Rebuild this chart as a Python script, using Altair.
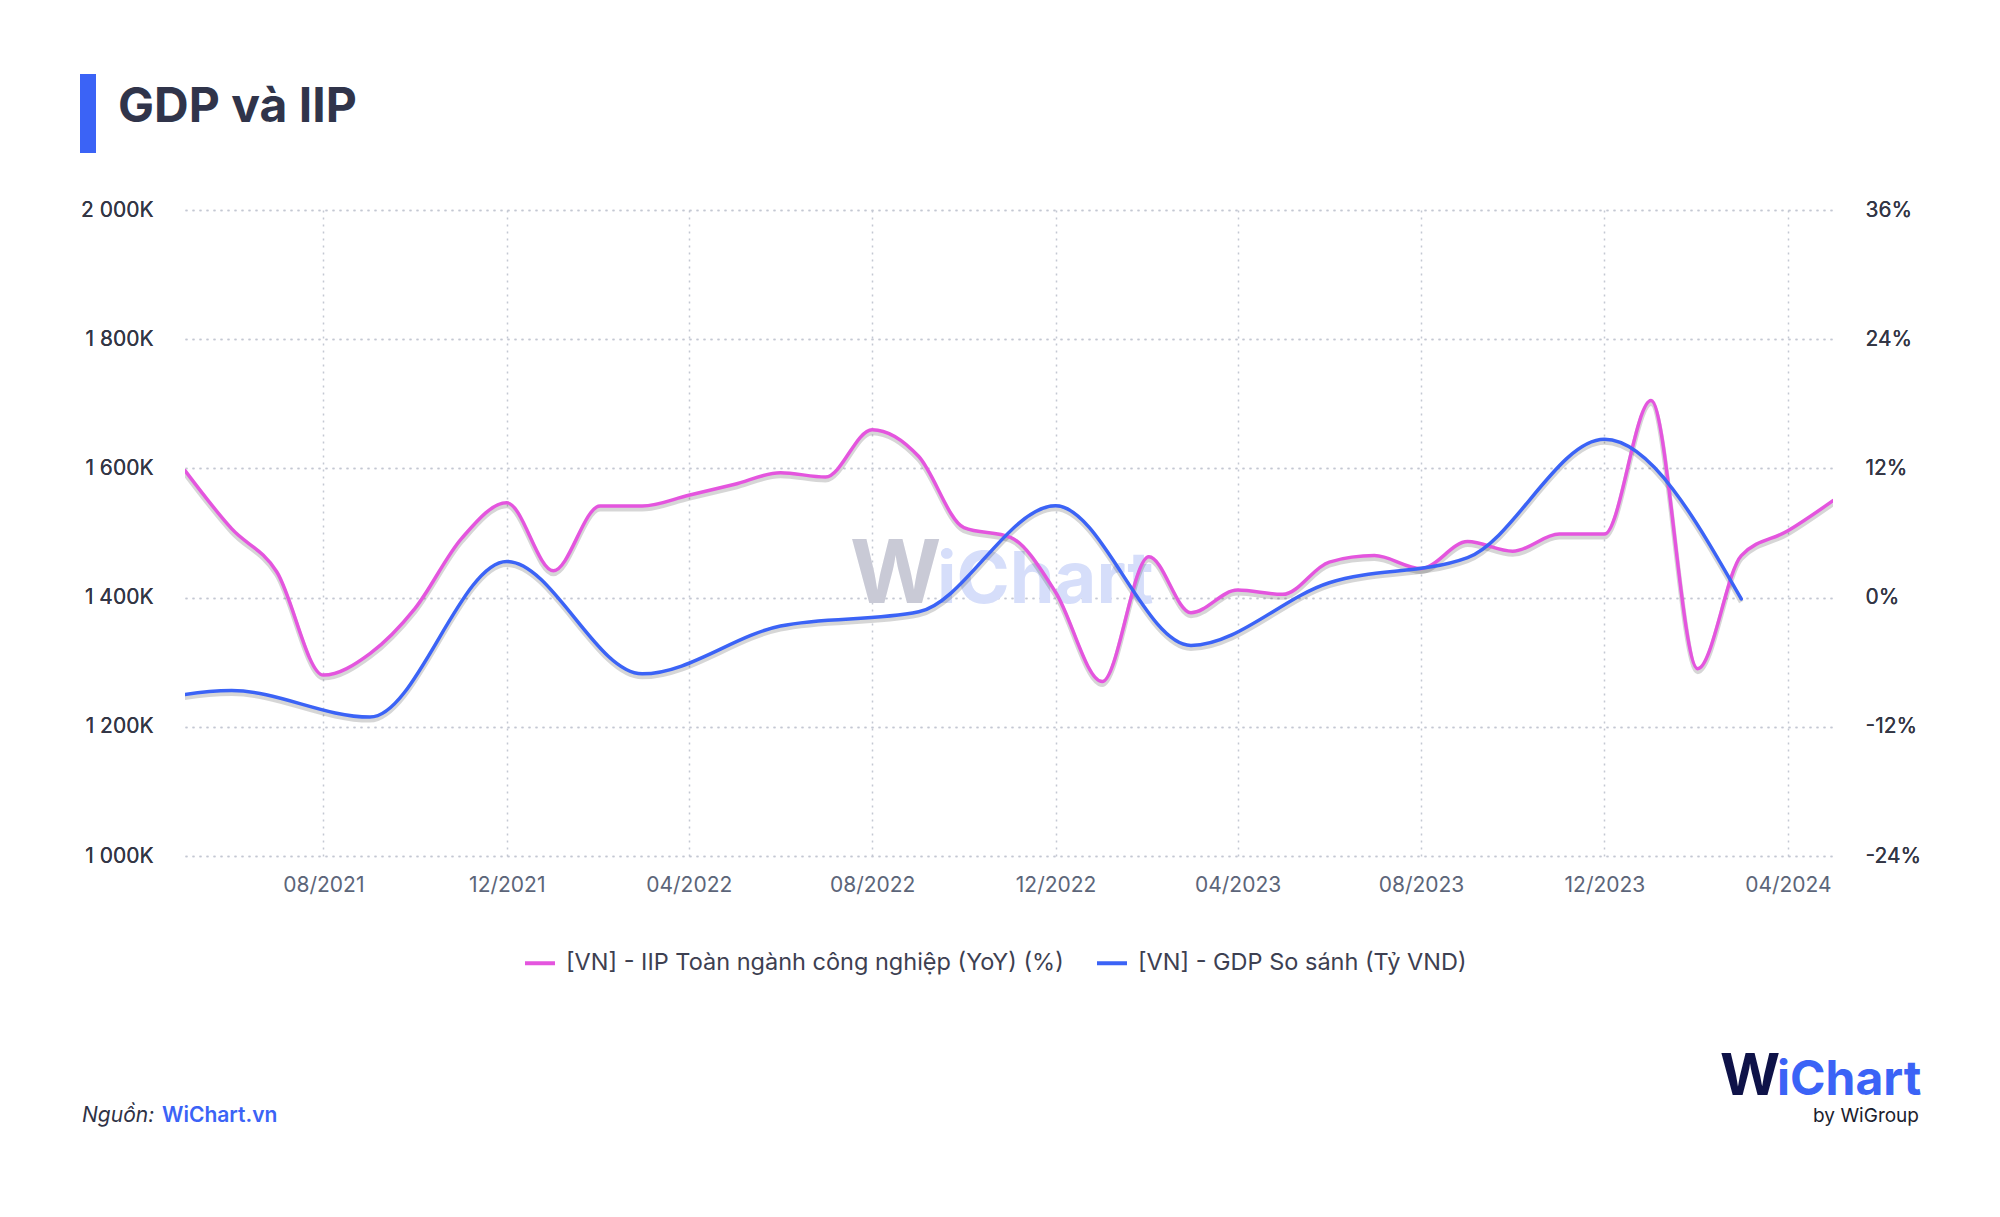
import altair as alt
import pandas as pd

# ---------------- data ----------------
IIP_NAME = "[VN] - IIP Toàn ngành công nghiệp (YoY) (%)"
GDP_NAME = "[VN] - GDP So sánh (Tỷ VND)"

iip_months = [
    "2021-05", "2021-06", "2021-07", "2021-08", "2021-09", "2021-10", "2021-11", "2021-12",
    "2022-01", "2022-02", "2022-03", "2022-04", "2022-05", "2022-06", "2022-07", "2022-08",
    "2022-09", "2022-10", "2022-11", "2022-12",
    "2023-01", "2023-02", "2023-03", "2023-04", "2023-05", "2023-06", "2023-07", "2023-08",
    "2023-09", "2023-10", "2023-11", "2023-12",
    "2024-01", "2024-02", "2024-03", "2024-04", "2024-05",
]
iip_values = [
    11.8, 6.4, 2.4, -7.2, -5.2, -1.0, 5.5, 8.8,
    2.5, 8.5, 8.5, 9.5, 10.5, 11.6, 11.2, 15.6,
    13.1, 6.5, 5.6, 0.5,
    -7.8, 3.8, -1.4, 0.7, 0.3, 3.3, 3.9, 2.7,
    5.2, 4.3, 5.9, 5.9,
    18.3, -6.6, 3.9, 6.2, 9.0,
]

gdp_months = [
    "2021-03", "2021-06", "2021-09", "2021-12",
    "2022-03", "2022-06", "2022-09", "2022-12",
    "2023-03", "2023-06", "2023-09", "2023-12",
    "2024-03",
]
gdp_values = [
    1216000, 1256000, 1215000, 1456000,
    1282000, 1356000, 1378000, 1542000,
    1326000, 1423000, 1462000, 1645000,
    1398000,
]

x_tick_months = [(2021, 8), (2021, 12), (2022, 4), (2022, 8), (2022, 12),
                 (2023, 4), (2023, 8), (2023, 12), (2024, 4)]
left_ticks = [1000000, 1200000, 1400000, 1600000, 1800000, 2000000]
right_ticks = [-24, -12, 0, 12, 24, 36]

PINK = "#E455DE"
BLUE = "#3B63F6"
FONT = "Inter"

iip_df = pd.DataFrame({"date": [m + "-01T00:00:00" for m in iip_months],
                       "value": iip_values, "series": IIP_NAME})
gdp_df = pd.DataFrame({"date": [m + "-01T00:00:00" for m in gdp_months],
                       "value": gdp_values, "series": GDP_NAME})

# ---------------- scales / axes ----------------
x_scale = alt.Scale(domain=[alt.DateTime(year=2021, month=5, date=1),
                            alt.DateTime(year=2024, month=5, date=1)])
x_axis = alt.Axis(
    values=[alt.DateTime(year=y, month=m, date=1) for y, m in x_tick_months],
    format="%m/%Y", title=None, domain=False, ticks=False,
    grid=True, gridDash=[2, 5], gridColor="#C3C8D2", gridWidth=1.5,
    labelFont=FONT, labelFontSize=21, labelColor="#5C6579", labelPadding=18,
)
left_axis = alt.Axis(
    orient="left", values=left_ticks, title=None, domain=False, ticks=False,
    grid=True, gridDash=[2, 5], gridColor="#C3C8D2", gridWidth=1.5,
    labelExpr="replace(format(datum.value / 1000, ','), ',', ' ') + 'K'",
    labelFont=FONT, labelFontSize=21, labelColor="#333645", labelPadding=32,
)
right_axis = alt.Axis(
    orient="right", values=right_ticks, title=None, domain=False, ticks=False,
    grid=False, labelExpr="datum.value + '%'",
    labelFont=FONT, labelFontSize=21, labelColor="#333645", labelPadding=32,
)

color_scale = alt.Scale(domain=[IIP_NAME, GDP_NAME], range=[PINK, BLUE])
legend = alt.Legend(
    orient="none", legendX=338, legendY=736, direction="horizontal", title=None,
    symbolType="stroke", symbolStrokeWidth=4, symbolSize=900,
    labelFont=FONT, labelFontSize=23.5, labelColor="#3D4051", labelLimit=0,
    columnPadding=25, labelOffset=9, padding=0,
)

x_enc = alt.X("date:T", scale=x_scale, axis=x_axis)

def line_layers(df, y_scale, axis):
    y_enc = alt.Y("value:Q", scale=y_scale, axis=axis)
    shadow = alt.Chart(df).mark_line(
        interpolate="monotone", clip=True, color="#000000", opacity=0.16,
        strokeWidth=5, yOffset=3,
    ).encode(x=x_enc, y=y_enc)
    main = alt.Chart(df).mark_line(
        interpolate="monotone", clip=True, strokeWidth=3.5, strokeCap="round",
    ).encode(
        x=x_enc, y=y_enc,
        color=alt.Color("series:N", scale=color_scale, legend=legend),
    )
    return shadow, main

iip_scale = alt.Scale(domain=[-24, 36], nice=False, zero=False)
gdp_scale = alt.Scale(domain=[1000000, 2000000], nice=False, zero=False)

gdp_shadow, gdp_line = line_layers(gdp_df, gdp_scale, left_axis)
iip_shadow, iip_line = line_layers(iip_df, iip_scale, right_axis)

# ---------------- decorations (text) ----------------
def text_layer(text, x, y, size, color, weight="normal", style="normal",
               align="left", opacity=1.0):
    return alt.Chart(pd.DataFrame({"t": [text]})).mark_text(
        font=FONT, fontSize=size, fontWeight=weight, fontStyle=style,
        color=color, align=align, baseline="alphabetic", opacity=opacity,
    ).encode(x=alt.value(x), y=alt.value(y), text="t:N")

title_bar = alt.Chart(pd.DataFrame({"t": [1]})).mark_rect(color=BLUE).encode(
    x=alt.value(-105), x2=alt.value(-89), y=alt.value(-136), y2=alt.value(-57))
title_text = text_layer("GDP và IIP", -67, -88, 48, "#30344A", weight="bold")

wm_w = text_layer("W", 665, 393, 88, "#C9CAD6", weight="bold")
wm_rest = text_layer("iChart", 752, 393, 72, "#D6DEFA", weight="bold")

src_a = text_layer("Nguồn:", -103, 912, 21, "#2F3245", style="italic")
src_b = text_layer("WiChart.vn", -23, 912, 21, BLUE, weight=600)

logo_w = text_layer("W", 1535, 885, 58, "#0E1248", weight="bold")
logo_rest = text_layer("iChart", 1592, 885, 48, BLUE, weight="bold")
logo_by = text_layer("by WiGroup", 1734, 912, 19, "#1B1D2E", align="right")

lines = alt.layer(gdp_shadow, iip_shadow, iip_line, gdp_line).resolve_scale(y="independent")

chart = alt.layer(
    wm_w, wm_rest, lines, title_bar, title_text, src_a, src_b,
    logo_w, logo_rest, logo_by,
).properties(
    width=1648, height=646,
    padding={"left": 177, "top": 202, "right": 140, "bottom": 290},
    autosize=alt.AutoSizeParams(type="none"),
    background="white",
).configure_view(stroke=None)

chart.save("out.html", embed_options={"renderer": "svg", "actions": False})
